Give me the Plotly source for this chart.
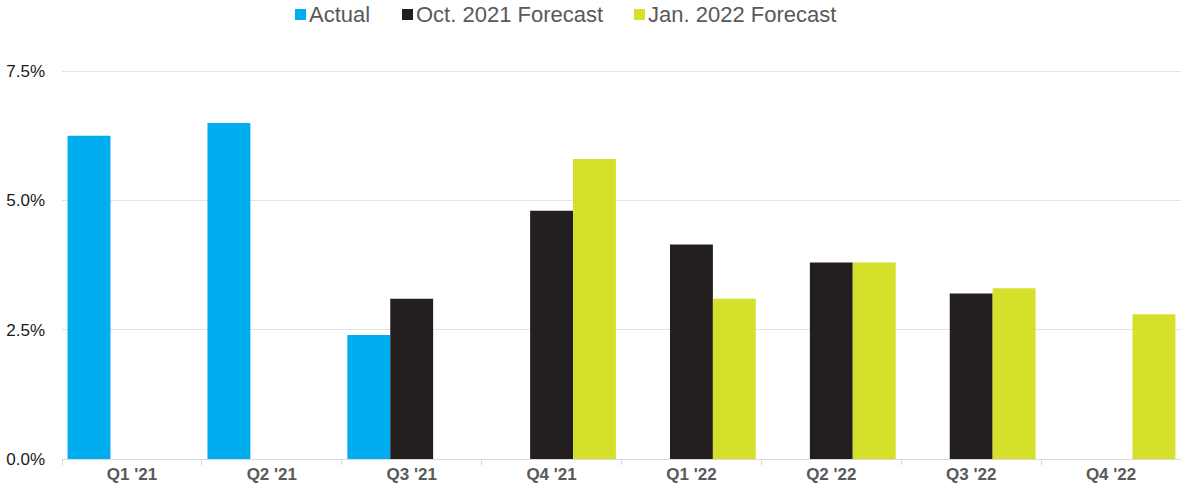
import plotly.graph_objects as go

quarters = ["Q1 '21", "Q2 '21", "Q3 '21", "Q4 '21", "Q1 '22", "Q2 '22", "Q3 '22", "Q4 '22"]
actual = [6.25, 6.5, 2.4, None, None, None, None, None]
oct_2021_forecast = [None, None, 3.1, 4.8, 4.15, 3.8, 3.2, None]
jan_2022_forecast = [None, None, None, 5.8, 3.1, 3.8, 3.3, 2.8]
y_ticks = [0, 2.5, 5.0, 7.5]
y_tick_labels = ["0.0%", "2.5%", "5.0%", "7.5%"]

series = [
    ("Actual", actual, "#00AEEF"),
    ("Oct. 2021 Forecast", oct_2021_forecast, "#231F20"),
    ("Jan. 2022 Forecast", jan_2022_forecast, "#D4E02A"),
]

W, H = 1181, 491
M_L, M_R, M_T, M_B = 62, 0, 65, 32
PLOT_W = W - M_L - M_R
PLOT_H = H - M_T - M_B


def px_x(x):
    return (x - M_L) / PLOT_W


def px_y(y):
    return (H - M_B - y) / PLOT_H


fig = go.Figure()
for name, values, color in series:
    fig.add_trace(go.Bar(
        x=quarters, y=values, name=name,
        marker=dict(color=color, line=dict(width=0)),
        showlegend=False,
    ))

# Legend row drawn across the top: swatch + label for each series
legend_swatch_left = [295, 402, 634]
shapes = []
annotations = []
for (name, _, color), left in zip(series, legend_swatch_left):
    shapes.append(dict(
        type="rect", xref="paper", yref="paper",
        x0=px_x(left), x1=px_x(left + 11), y0=px_y(20), y1=px_y(9),
        fillcolor=color, line=dict(width=0), layer="above",
    ))
    annotations.append(dict(
        text=name, xref="paper", yref="paper",
        x=px_x(left + 13), y=px_y(14.5), xanchor="left", yanchor="middle",
        showarrow=False, borderpad=0,
        font=dict(size=22, color="#595959", family="Liberation Sans, Arial, sans-serif"),
    ))

fig.update_layout(
    width=W, height=H,
    margin=dict(l=M_L, r=M_R, t=M_T, b=M_B),
    barmode="group", bargap=0.08, bargroupgap=0,
    plot_bgcolor="white", paper_bgcolor="white",
    font=dict(family="Liberation Sans, Arial, sans-serif"),
    showlegend=False,
    shapes=shapes,
    annotations=annotations,
    xaxis=dict(
        type="category",
        showline=True, linecolor="#D9D9D9", linewidth=1,
        ticks="outside", tickson="boundaries", ticklen=5, tickcolor="#D9D9D9",
        tickfont=dict(size=17, color="#595959", family="Liberation Sans, Arial, sans-serif", weight="bold"),
        showgrid=False,
    ),
    yaxis=dict(
        range=[0, 7.62],
        tickvals=y_ticks, ticktext=y_tick_labels,
        tickfont=dict(size=17, color="#1A1A1A"),
        showgrid=True, gridcolor="#E3E3E3", gridwidth=1,
        zeroline=False, showline=False,
        ticks="", ticklabelstandoff=16,
    ),
)

fig.write_html("out.html")
